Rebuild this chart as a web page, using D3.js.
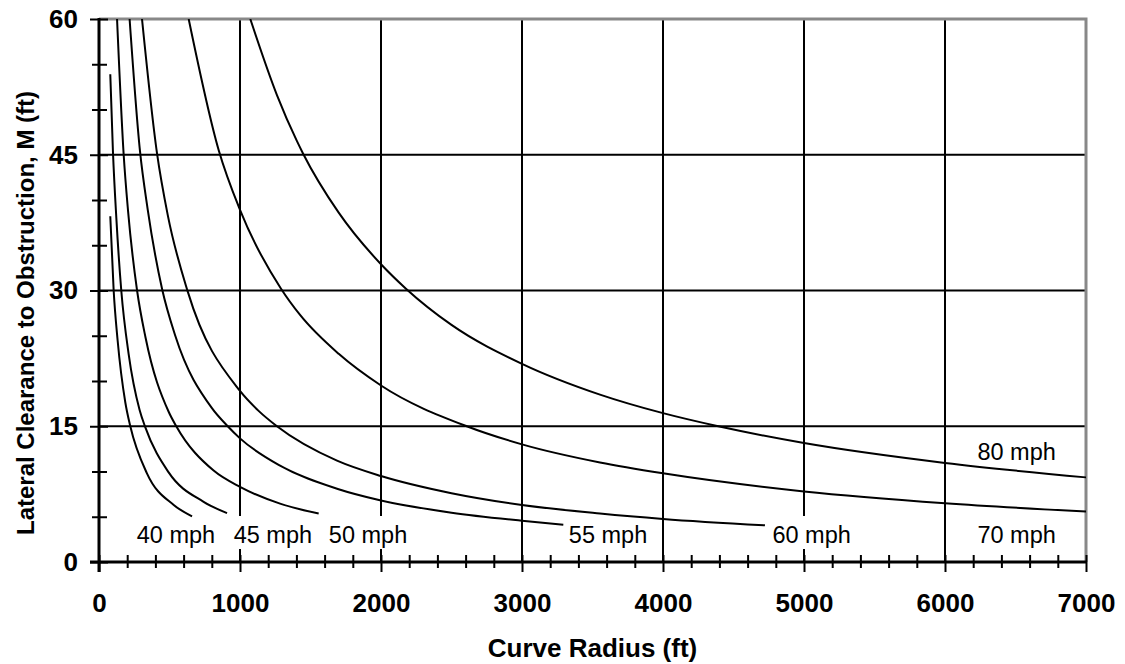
<!DOCTYPE html>
<html>
<head>
<meta charset="utf-8">
<script src="https://cdn.jsdelivr.net/npm/d3@7"></script>
<style>
body { margin: 0; background: #fff; }
text { font-family: "Liberation Sans", Arial, sans-serif; }
</style>
</head>
<body>
<script>
var w = 1125;
var h = 664;
var margin = {left: 99, right: 39, top: 19, bottom: 102};

// series (radius ft, clearance ft)
var speeds = ["40 mph", "45 mph", "50 mph", "55 mph", "60 mph", "70 mph", "80 mph"];
var r40 = [80, 104, 132, 187, 222, 340, 530, 660];
var m40 = [38.2, 30, 24.5, 17.6, 15, 9.8, 6.3, 5.05];
var r45 = [80, 99, 123, 158, 210, 288, 328, 494, 742, 908];
var m45 = [53.9, 45.3, 38, 30, 23, 16.8, 14.9, 9.9, 6.65, 5.4];
var r50 = [128, 175, 206, 270, 330, 494, 548, 813, 1000, 1284, 1558];
var m50 = [60, 45, 38.8, 30, 24.8, 16.6, 15, 10.1, 8.3, 6.45, 5.35];
var r55 = [217, 290, 345, 447, 541, 801, 913, 1000, 1284, 1688, 2000, 2500, 3000, 3293];
var m55 = [60, 45.5, 39, 30.2, 25, 17, 15, 13.66, 10.65, 8.1, 6.8, 5.45, 4.56, 4.12];
var r60 = [305, 411, 488, 629, 1000, 1132, 1262, 1688, 2000, 2500, 3000, 3553, 4000, 4723];
var m60 = [60, 45.2, 38.3, 29.9, 18.9, 16.7, 15, 11.2, 9.5, 7.6, 6.3, 5.36, 4.76, 4.05];
var r70 = [636, 849, 1000, 1291, 1426, 1700, 2000, 2608, 3000, 3553, 4000, 5000, 6000, 7000];
var m70 = [60, 45.5, 38.9, 30.2, 27.3, 23, 19.5, 15, 13, 11.0, 9.8, 7.8, 6.5, 5.58];
var r80 = [1073, 1262, 1404, 1445, 1700, 2000, 2177, 2500, 3000, 3553, 4000, 4392, 5000, 6000, 7000];
var m80 = [60, 51.6, 46.5, 45.2, 38.6, 32.9, 30.2, 26.2, 21.9, 18.5, 16.45, 15, 13.15, 10.95, 9.35];
var radii = [r40, r45, r50, r55, r60, r70, r80];
var clears = [m40, m45, m50, m55, m60, m70, m80];

var xTicks = [0, 1000, 2000, 3000, 4000, 5000, 6000, 7000];
var yTicks = [0, 15, 30, 45, 60];

// where the speed labels sit (data units)
var labelX = [546, 1233, 1908, 3610, 5054, 6508, 6508];
var labelY = [2.1, 2.1, 2.1, 2.1, 2.1, 2.1, 11.3];

var pw = w - margin.left - margin.right;
var ph = h - margin.top - margin.bottom;

var xScale = d3.scaleLinear().domain([0, 7000]).range([margin.left, margin.left + pw]);
var yScale = d3.scaleLinear().domain([0, 60]).range([margin.top + ph, margin.top]);

var svg = d3.select("body").append("svg")
    .attr("width", w)
    .attr("height", h);

svg.append("defs").append("clipPath").attr("id", "plot")
   .append("rect")
   .attr("x", margin.left).attr("y", margin.top)
   .attr("width", pw).attr("height", ph);

//grid
svg.selectAll("line.vg")
   .data(xTicks.slice(1, -1))
   .enter().append("line")
   .attr("class", "vg")
   .attr("x1", function(d) { return xScale(d); })
   .attr("x2", function(d) { return xScale(d); })
   .attr("y1", yScale(60)).attr("y2", yScale(0))
   .attr("stroke", "#000").attr("stroke-width", 2);

svg.selectAll("line.hg")
   .data(yTicks.slice(1, -1))
   .enter().append("line")
   .attr("class", "hg")
   .attr("x1", xScale(0)).attr("x2", xScale(7000))
   .attr("y1", function(d) { return yScale(d); })
   .attr("y2", function(d) { return yScale(d); })
   .attr("stroke", "#000").attr("stroke-width", 2);

//gray frame top and right
svg.append("path")
   .attr("d", "M" + xScale(0) + "," + yScale(60) + "H" + xScale(7000) + "V" + yScale(0))
   .attr("fill", "none").attr("stroke", "#888").attr("stroke-width", 3);

//speed labels with white boxes (under the curves, over the grid)
var lab = svg.append("g").selectAll("g")
   .data(speeds)
   .enter().append("g");

lab.append("text")
   .attr("x", function(d, i) { return xScale(labelX[i]); })
   .attr("y", function(d, i) { return yScale(labelY[i]); })
   .attr("text-anchor", "middle")
   .attr("font-size", 23.5)
   .attr("fill", "#000")
   .text(function(d) { return d; });

lab.each(function() {
    var g = d3.select(this);
    var b = g.select("text").node().getBBox();
    g.insert("rect", "text")
     .attr("x", b.x - 4).attr("y", b.y - 6)
     .attr("width", b.width + 8).attr("height", b.height + 7)
     .attr("fill", "#fff");
});

//curves
var line = d3.line()
    .x(function(d) { return xScale(d[0]); })
    .y(function(d) { return yScale(d[1]); })
    .curve(d3.curveMonotoneX);

svg.append("g").attr("clip-path", "url(#plot)")
   .selectAll("path")
   .data(radii.map(function(r, i) { return d3.zip(r, clears[i]); }))
   .enter().append("path")
   .attr("d", line)
   .attr("fill", "none")
   .attr("stroke", "#000")
   .attr("stroke-width", 2);

//X axis
var xMinor = svg.append("g")
    .attr("transform", "translate(0," + yScale(0) + ")")
    .call(d3.axisBottom(xScale).tickValues(d3.range(0, 7001, 200)).tickSize(6).tickFormat(""));
xMinor.select(".domain").remove();
xMinor.selectAll(".tick line")
    .attr("y1", -7)
    .attr("y2", function(d) { return d % 1000 === 0 ? 10 : 6; })
    .attr("stroke-width", 2);

svg.append("line")
   .attr("x1", xScale(0) - 9).attr("x2", xScale(7000) + 1)
   .attr("y1", yScale(0)).attr("y2", yScale(0))
   .attr("stroke", "#000").attr("stroke-width", 3);

var xAxis = svg.append("g")
    .attr("transform", "translate(0," + yScale(0) + ")")
    .call(d3.axisBottom(xScale).tickValues(xTicks).tickSize(0).tickPadding(50).tickFormat(d3.format("d")));
xAxis.select(".domain").remove();
xAxis.selectAll("text")
    .attr("font-size", 26).attr("font-weight", "bold").attr("fill", "#000")
    .attr("dy", "0");

//Y axis
var yMinor = svg.append("g")
    .attr("transform", "translate(" + xScale(0) + ",0)")
    .call(d3.axisLeft(yScale).tickValues(d3.range(0, 61, 5)).tickSize(7).tickFormat(""));
yMinor.select(".domain").remove();
yMinor.selectAll(".tick line")
    .attr("x1", function(d) { return d % 15 === 0 ? 9 : 8; })
    .attr("x2", function(d) { return d % 15 === 0 ? -9 : -7; })
    .attr("stroke-width", 2);

svg.append("line")
   .attr("x1", xScale(0)).attr("x2", xScale(0))
   .attr("y1", yScale(60) - 1).attr("y2", yScale(0) + 10)
   .attr("stroke", "#000").attr("stroke-width", 3);

var yAxis = svg.append("g")
    .attr("transform", "translate(" + xScale(0) + ",0)")
    .call(d3.axisLeft(yScale).tickValues(yTicks).tickSize(0).tickPadding(21));
yAxis.select(".domain").remove();
yAxis.selectAll("text")
    .attr("font-size", 26).attr("font-weight", "bold").attr("fill", "#000");

//titles
svg.append("text")
   .attr("x", (xScale(0) + xScale(7000)) / 2)
   .attr("y", 657)
   .attr("text-anchor", "middle")
   .attr("font-size", 26).attr("font-weight", "bold")
   .text("Curve Radius (ft)");

svg.append("text")
   .attr("transform", "translate(34," + 313 + ") rotate(-90)")
   .attr("text-anchor", "middle")
   .attr("font-size", 24).attr("font-weight", "bold")
   .text("Lateral Clearance to Obstruction, M (ft)");
</script>
</body>
</html>
